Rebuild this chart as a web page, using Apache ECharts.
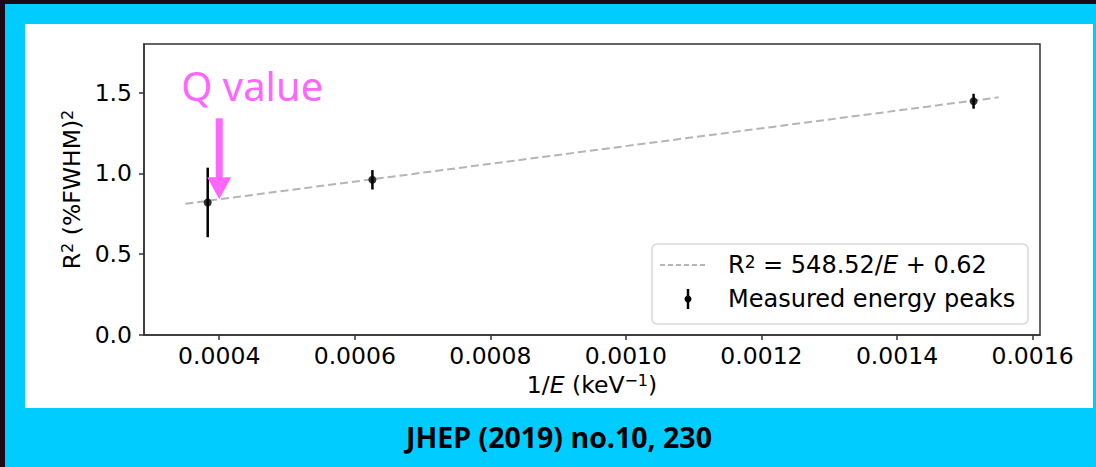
<!DOCTYPE html>
<html>
<head>
<meta charset="utf-8">
<script src="https://cdn.jsdelivr.net/npm/echarts@6/dist/echarts.min.js"></script>
<style>
  html, body { margin: 0; padding: 0; }
  body { width: 1096px; height: 467px; background: #00ccff; position: relative; overflow: hidden; }
  #frameTop { position: absolute; left: 0; top: 0; width: 1096px; height: 4px; background: #1b0a14; }
  #frameLeft { position: absolute; left: 0; top: 0; width: 5px; height: 467px; background: #1b0a14; }
  #panel { position: absolute; left: 25px; top: 24px; width: 1068px; height: 384px; background: #ffffff; }
  #chart { position: absolute; left: 0; top: 0; width: 1096px; height: 467px; }
</style>
</head>
<body>
<div id="frameTop"></div>
<div id="frameLeft"></div>
<div id="panel"></div>
<div id="chart"></div>
<script>
// Measured resolution points: 1/E in keV^-1, R^2 in (%FWHM)^2 with uncertainties
const invE = [0.000383, 0.000626, 0.001513];
const r2 = [0.82, 0.96, 1.446];
const r2Err = [0.215, 0.06, 0.046];

// Linear fit R^2 = SLOPE / E + INTERCEPT, drawn over this 1/E span
const SLOPE = 548.52;
const INTERCEPT = 0.62;
const fitRange = [0.00035, 0.00155];

// Q value position on the 1/E axis
const Q_INV_E = 0.0004;

// Axis ranges and tick labels
const xRange = [0.000289, 0.001611];
const xTicks = [0.0004, 0.0006, 0.0008, 0.0010, 0.0012, 0.0014, 0.0016];
const yRange = [0, 1.8];
const yTicks = [0.0, 0.5, 1.0, 1.5];

const FONT = 'DejaVu Sans';
const FS = 23.5;
const LEG_FS = 24;
const AXIS_COLOR = '#333333';

// rich-text styles: italic symbol and raised superscript
function richStyles(size) {
  return {
    i: { fontFamily: FONT, fontSize: size, fontStyle: 'italic', color: '#000', fill: '#000' },
    sup: { fontFamily: FONT, fontSize: Math.round(size * 0.7), color: '#000', fill: '#000', verticalAlign: 'top' }
  };
}

const fitLine = fitRange.map(x => [x, SLOPE * x + INTERCEPT]);
const points = invE.map((x, i) => [x, r2[i]]);
const bars = invE.map((x, i) => [x, r2[i], r2Err[i]]);

const chart = echarts.init(document.getElementById('chart'), null, { renderer: 'svg' });

const axisCommon = {
  type: 'value',
  axisLine: { show: true, lineStyle: { color: AXIS_COLOR, width: 1.5 } },
  axisTick: { show: true, inside: false, length: 5, lineStyle: { color: AXIS_COLOR, width: 1.5 } },
  splitLine: { show: false },
  nameLocation: 'middle'
};

chart.setOption({
  animation: false,
  backgroundColor: 'transparent',
  grid: {
    left: 144, top: 44, right: 56, bottom: 132,
    show: true, borderColor: AXIS_COLOR, borderWidth: 1.5, backgroundColor: 'transparent'
  },
  xAxis: Object.assign({}, axisCommon, {
    min: xRange[0], max: xRange[1],
    axisTick: Object.assign({}, axisCommon.axisTick, { customValues: xTicks }),
    axisLabel: {
      customValues: xTicks, formatter: v => v.toFixed(4),
      fontFamily: FONT, fontSize: FS, color: '#000', margin: 9
    },
    name: '1/{i|E} (keV{sup|−1})',
    nameGap: 32,
    nameTextStyle: { fontFamily: FONT, fontSize: FS, color: '#000', rich: richStyles(FS) }
  }),
  yAxis: Object.assign({}, axisCommon, {
    min: yRange[0], max: yRange[1],
    axisTick: Object.assign({}, axisCommon.axisTick, { customValues: yTicks }),
    axisLabel: {
      customValues: yTicks, formatter: v => v.toFixed(1),
      fontFamily: FONT, fontSize: FS, color: '#000', margin: 12
    },
    name: 'R{sup|2} (%FWHM){sup|2}',
    nameRotate: 90,
    nameGap: 56,
    nameTextStyle: { fontFamily: FONT, fontSize: FS, color: '#000', rich: richStyles(FS) }
  }),
  series: [
    {
      name: 'fit',
      type: 'line',
      data: fitLine,
      showSymbol: false,
      silent: true,
      z: 1,
      lineStyle: { color: '#b5b5b5', width: 2, type: [8, 4] }
    },
    {
      name: 'errors',
      type: 'custom',
      data: bars,
      encode: { x: 0, y: 1 },
      z: 3,
      renderItem: function (params, api) {
        const x = api.value(0), y = api.value(1), e = api.value(2);
        const top = api.coord([x, y + e]);
        const bot = api.coord([x, y - e]);
        return {
          type: 'line',
          shape: { x1: top[0], y1: top[1], x2: bot[0], y2: bot[1] },
          style: { stroke: '#000', lineWidth: 2.5 }
        };
      }
    },
    {
      name: 'Measured energy peaks',
      type: 'scatter',
      data: points,
      symbol: 'circle',
      symbolSize: 8,
      z: 4,
      itemStyle: { color: '#000' }
    }
  ]
});

// Annotation arrow pointing at the fit value at the Q value, plus legend box and caption
const tip = chart.convertToPixel({ gridIndex: 0 }, [Q_INV_E, SLOPE * Q_INV_E + INTERCEPT]);
const PINK = '#ff66ff';
const headTop = tip[1] - 22;
const shaftTop = tip[1] - 81;

const lgX = 652, lgY = 244, lgW = 376, lgH = 80;
const row1 = lgY + 21, row2 = lgY + 55;

chart.setOption({
  graphic: [
    {
      type: 'rect', z: 10,
      shape: { x: tip[0] - 3.5, y: shaftTop, width: 7, height: headTop - shaftTop + 1 },
      style: { fill: PINK }
    },
    {
      type: 'polygon', z: 10,
      shape: { points: [[tip[0] - 12, headTop], [tip[0] + 12, headTop], [tip[0], tip[1]]] },
      style: { fill: PINK }
    },
    {
      type: 'text', z: 10,
      style: {
        text: 'Q value', x: tip[0] - 38, y: tip[1] - 114,
        fontFamily: 'Noto Sans', fontSize: 40, fill: PINK,
        align: 'left', verticalAlign: 'middle'
      }
    },
    {
      type: 'rect', z: 20,
      shape: { x: lgX, y: lgY, width: lgW, height: lgH, r: 5 },
      style: { fill: 'rgba(255,255,255,0.85)', stroke: '#d8d8d8', lineWidth: 1.5 }
    },
    {
      type: 'line', z: 21,
      shape: { x1: lgX + 8, y1: row1, x2: lgX + 56, y2: row1 },
      style: { stroke: '#b5b5b5', lineWidth: 2, lineDash: [5, 3] }
    },
    {
      type: 'text', z: 21,
      style: {
        text: 'R{sup|2} = ' + SLOPE.toFixed(2) + '/{i|E} + ' + INTERCEPT.toFixed(2),
        x: lgX + 76, y: row1,
        fontFamily: FONT, fontSize: LEG_FS, fill: '#000',
        verticalAlign: 'middle', align: 'left',
        rich: richStyles(LEG_FS)
      }
    },
    {
      type: 'line', z: 21,
      shape: { x1: lgX + 36, y1: row2 - 10, x2: lgX + 36, y2: row2 + 10 },
      style: { stroke: '#000', lineWidth: 2.5 }
    },
    {
      type: 'circle', z: 22,
      shape: { cx: lgX + 36, cy: row2, r: 3.5 },
      style: { fill: '#000' }
    },
    {
      type: 'text', z: 21,
      style: {
        text: 'Measured energy peaks', x: lgX + 76, y: row2,
        fontFamily: FONT, fontSize: LEG_FS, fill: '#000',
        verticalAlign: 'middle', align: 'left'
      }
    },
    {
      type: 'text', z: 10,
      style: {
        text: 'JHEP (2019) no.10, 230', x: 559, y: 437,
        fontFamily: 'Open Sans', fontWeight: 'bold', fontSize: 28.5, fill: '#000',
        align: 'center', verticalAlign: 'middle'
      }
    }
  ]
});
</script>
</body>
</html>
